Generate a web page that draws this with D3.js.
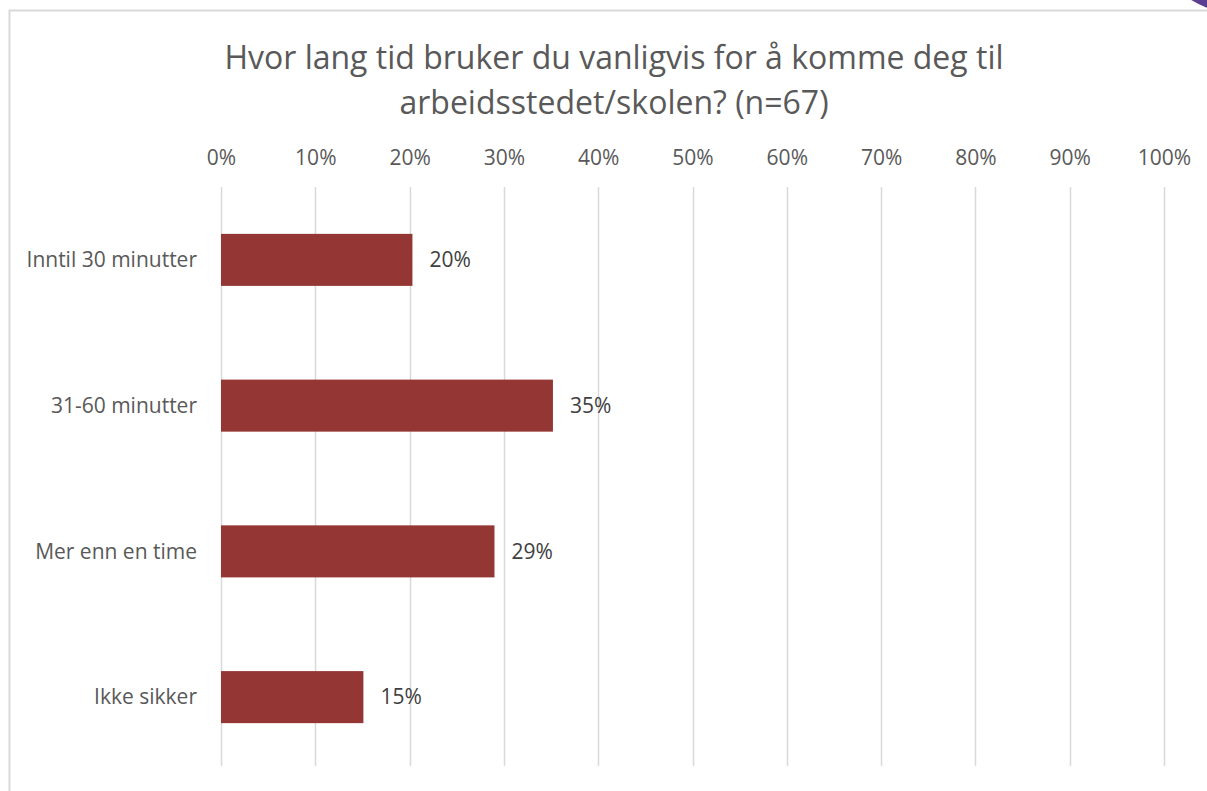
<!DOCTYPE html>
<html>
<head>
<meta charset="utf-8">
<script src="https://cdn.jsdelivr.net/npm/d3@7"></script>
<style>
  html, body { margin: 0; padding: 0; background: #fff; }
  svg { display: block; font-family: "Open Sans", sans-serif; }
</style>
</head>
<body>
<svg width="1207" height="791"></svg>
<script>
// Chart data
const titleLines = ['Hvor lang tid bruker du vanligvis for å komme deg til', 'arbeidsstedet/skolen? (n=67)'];
const categories = ['Inntil 30 minutter', '31-60 minutter', 'Mer enn en time', 'Ikke sikker'];
const values = [0.203, 0.352, 0.290, 0.151];
const valueLabels = ['20%', '35%', '29%', '15%'];
const tickValues = [0, 0.1, 0.2, 0.3, 0.4, 0.5, 0.6, 0.7, 0.8, 0.9, 1.0];

const svg = d3.select('svg');
const margin = { top: 187, right: 43, bottom: 21, left: 221 };
const width = 1207, height = 791;
const innerWidth = width - margin.left - margin.right;
const innerHeight = height - margin.top - margin.bottom;
const fontFamily = '"Open Sans", sans-serif';
const labelSize = '21px';

// chart area border (only top and left fall inside the picture)
svg.append('path')
    .attr('d', `M9.5,${height} V10.5 H${width}`)
    .attr('fill', 'none')
    .attr('stroke', '#d9d9d9')
    .attr('stroke-width', 2);

// title
svg.append('text')
    .attr('x', 614)
    .attr('y', 69)
    .attr('text-anchor', 'middle')
    .attr('fill', '#595959')
    .style('font-size', '32px')
    .selectAll('tspan')
    .data(titleLines)
    .join('tspan')
    .attr('x', 614)
    .attr('dy', (d, i) => i === 0 ? 0 : 45)
    .text(d => d);

const xScale = d3.scaleLinear().domain([0, 1]).range([0, innerWidth]);
const yScale = d3.scaleBand().domain(categories).range([0, innerHeight]).paddingInner(0.643).paddingOuter(0.3215);

const g = svg.append('g').attr('transform', `translate(${margin.left},${margin.top})`);

// gridlines
g.append('g')
    .selectAll('line')
    .data(tickValues)
    .join('line')
    .attr('x1', d => Math.round(xScale(d)) + 0.5)
    .attr('x2', d => Math.round(xScale(d)) + 0.5)
    .attr('y1', 0)
    .attr('y2', innerHeight - 4)
    .attr('stroke', '#d9d9d9')
    .attr('stroke-width', 1.5);

// top axis labels
const xAxis = d3.axisTop(xScale).tickValues(tickValues).tickFormat(d3.format('.0%')).tickSize(0).tickPadding(0);
g.append('g')
    .attr('transform', 'translate(0,-22)')
    .call(xAxis)
    .call(a => a.select('.domain').remove())
    .selectAll('text')
    .attr('fill', '#595959')
    .style('font-size', labelSize)
    .style('font-family', fontFamily);

// category axis
const yAxis = d3.axisLeft(yScale).tickSize(0).tickPadding(24);
g.append('g')
    .call(yAxis)
    .call(a => a.select('.domain').remove())
    .selectAll('text')
    .attr('fill', '#595959')
    .attr('dy', '0.35em')
    .style('font-size', labelSize)
    .style('font-family', fontFamily);

// bars
g.selectAll('rect.bar')
    .data(categories)
    .join('rect')
    .attr('class', 'bar')
    .attr('x', 0)
    .attr('y', d => yScale(d))
    .attr('width', (d, i) => xScale(values[i]))
    .attr('height', yScale.bandwidth())
    .attr('fill', '#943634');

// value labels
g.selectAll('text.val')
    .data(categories)
    .join('text')
    .attr('class', 'val')
    .attr('x', (d, i) => xScale(values[i]) + 17)
    .attr('y', d => yScale(d) + yScale.bandwidth() / 2)
    .attr('dy', '0.35em')
    .attr('fill', '#404040')
    .style('font-size', labelSize)
    .text((d, i) => valueLabels[i]);

// purple shape peeking in at top-right corner
svg.append('circle')
    .attr('cx', 1250)
    .attr('cy', -100)
    .attr('r', 116)
    .attr('fill', '#5b3d92');
</script>
</body>
</html>
